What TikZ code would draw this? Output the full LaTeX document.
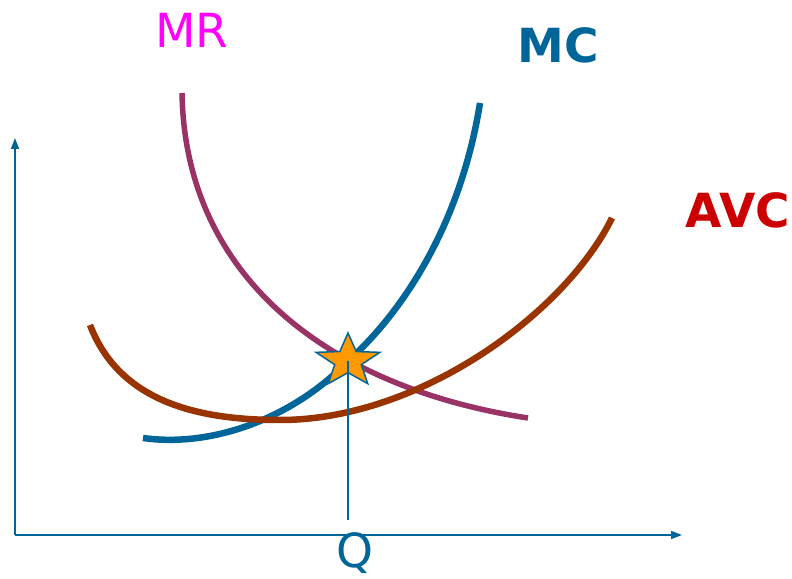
\documentclass[tikz,border=0pt]{standalone}
\usepackage{fontspec}
\setmainfont{DejaVu Sans}
\usepackage{xcolor}
\usetikzlibrary{arrows.meta, shapes.geometric}

\definecolor{axisblue}{RGB}{0,102,153}
\definecolor{mrcurve}{RGB}{153,51,102}
\definecolor{mrlabel}{RGB}{255,0,255}
\definecolor{avccurve}{RGB}{153,51,0}
\definecolor{avclabel}{RGB}{204,0,0}
\definecolor{starfill}{RGB}{255,153,0}

\begin{document}
\begin{tikzpicture}[x=1pt, y=1pt,
        axis/.style={draw=axisblue, line width=1.5pt, -{Triangle[length=11pt, width=8pt]}},
        curve/.style={line width=6.5pt},
        lbl/.style={font=\fontsize{47}{50}\selectfont, inner sep=0pt}]
        \useasboundingbox (0,0) rectangle (792,578);

        \coordinate (o) at (15,43);
        \coordinate (ytop) at (15,440);
        \coordinate (xend) at (682,43);
        \coordinate (qfoot) at (348,58);

        % axes
        \draw[axis] (o) -- (ytop);
        \draw[axis] (o) -- (xend);

        % curves
        \draw[curve, mrcurve, line width=5.5pt] (182,485)
            .. controls (185,300) and (330,190) .. (528,160);
        \draw[curve, axisblue] (143,140)
            .. controls (215,130) and (295,162) .. (347,216)
            .. controls (400,263) and (460,350) .. (480,475);
        \draw[curve, avccurve] (90,253)
            .. controls (120,175) and (200,158) .. (280,158)
            .. controls (420,158) and (565,265) .. (612,360);

        % equilibrium
        \node[star, star points=5, star point ratio=2.4, minimum size=56pt,
              fill=starfill, draw=axisblue, line width=1.5pt, inner sep=0pt,
              xscale=1.2, transform shape] (eq) at (348,217) {};
        \draw[axisblue, line width=1.5pt] (eq.center) -- (qfoot);

        % labels
        \node[lbl, text=mrlabel] (mr) at (192,548) {MR};
        \node[lbl, text=axisblue, font=\fontsize{47}{50}\selectfont\bfseries] (mc) at (558,533) {MC};
        \node[lbl, text=avclabel, font=\fontsize{47}{50}\selectfont\bfseries] (avc) at (738,368) {AVC};
        \node[lbl, text=axisblue, anchor=base] (q) at (355,10) {Q};
\end{tikzpicture}
\end{document}
